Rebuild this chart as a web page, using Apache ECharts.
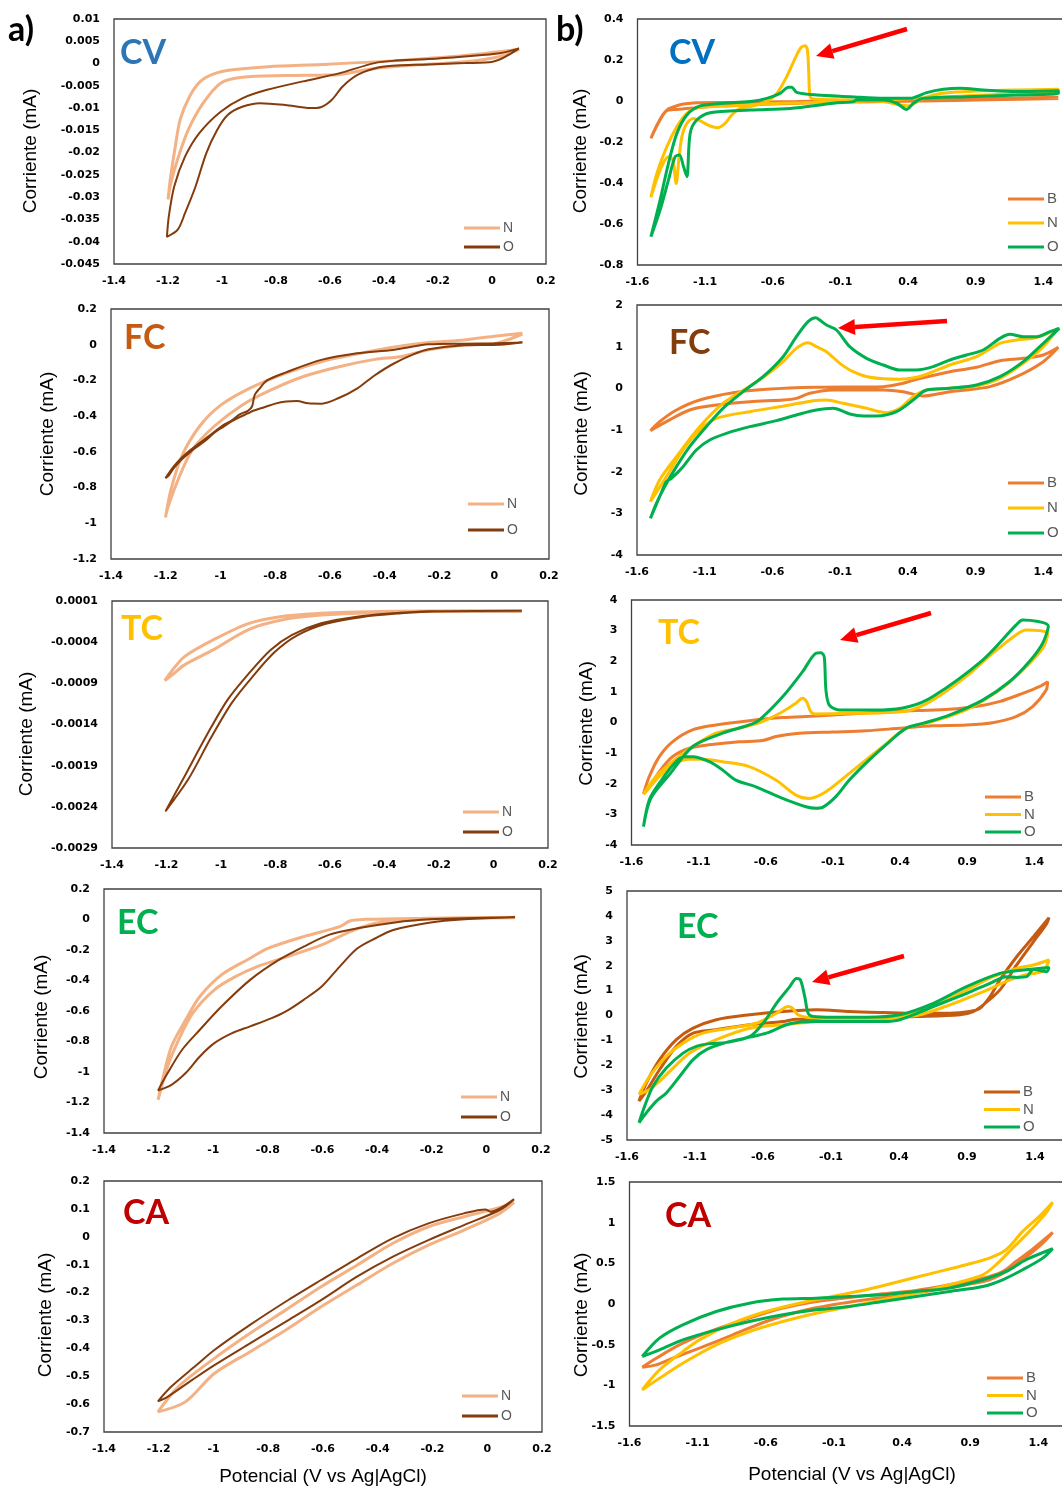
<!DOCTYPE html>
<html><head><meta charset="utf-8">
<script src="https://cdn.jsdelivr.net/npm/echarts@6/dist/echarts.min.js"></script>
<style>
html,body{margin:0;padding:0;background:#fff;width:1062px;height:1488px;overflow:hidden}
#L{position:absolute;left:0;top:0;width:560px;height:1488px}
#R{position:absolute;left:551px;top:0;width:511px;height:1488px}
</style></head><body><div id="L"></div><div id="R"></div>
<script>
// ---------- tick labels ----------
const xTicksA=[-1.4,-1.2,-1,-0.8,-0.6,-0.4,-0.2,0,0.2];
const xTicksB=[-1.6,-1.1,-0.6,-0.1,0.4,0.9,1.4];
const yTicksCVa=[0.01,0.005,0,-0.005,-0.01,-0.015,-0.02,-0.025,-0.03,-0.035,-0.04,-0.045];
const yTicksFCa=[0.2,0,-0.2,-0.4,-0.6,-0.8,-1,-1.2];
const yTicksTCa=[0.0001,-0.0004,-0.0009,-0.0014,-0.0019,-0.0024,-0.0029];
const yTicksECa=[0.2,0,-0.2,-0.4,-0.6,-0.8,-1,-1.2,-1.4];
const yTicksCAa=[0.2,0.1,0,-0.1,-0.2,-0.3,-0.4,-0.5,-0.6,-0.7];
const yTicksCVb=[0.4,0.2,0,-0.2,-0.4,-0.6,-0.8];
const yTicksFCb=[2,1,0,-1,-2,-3,-4];
const yTicksTCb=[4,3,2,1,0,-1,-2,-3,-4];
const yTicksECb=[5,4,3,2,1,0,-1,-2,-3,-4,-5];
const yTicksCAb=[1.5,1,0.5,0,-0.5,-1,-1.5];

// ---------- a) series (Potencial V, Corriente mA) ----------
const cvA_N=[[0.10,0.0032],[-0.10,0.0018],[-0.37,0.0006],[-0.63,-0.0002],[-0.83,-0.0007],[-0.96,-0.0014],[-1.03,-0.0023],[-1.08,-0.0040],[-1.12,-0.0074],[-1.155,-0.0126],[-1.175,-0.0194],[-1.19,-0.0253],[-1.20,-0.0305],[-1.19,-0.0270],[-1.165,-0.0216],[-1.125,-0.0149],[-1.07,-0.0089],[-1.005,-0.0044],[-0.925,-0.0031],[-0.77,-0.0027],[-0.63,-0.0026],[-0.57,-0.0025],[-0.435,-0.0011],[-0.30,-0.0004],[-0.10,0.0004],[0.03,0.0016],[0.10,0.0032]];
const cvA_O=[[0.10,0.0034],[0.003,0.0004],[-0.10,0.0001],[-0.24,-0.0002],[-0.37,-0.0005],[-0.435,-0.0011],[-0.50,-0.0026],[-0.554,-0.0052],[-0.594,-0.0082],[-0.634,-0.0098],[-0.673,-0.0100],[-0.766,-0.0093],[-0.859,-0.0089],[-0.925,-0.0097],[-0.978,-0.0115],[-1.018,-0.0149],[-1.058,-0.0201],[-1.098,-0.0276],[-1.137,-0.0336],[-1.164,-0.0373],[-1.204,-0.0389],[-1.197,-0.0343],[-1.177,-0.0276],[-1.137,-0.0209],[-1.084,-0.0156],[-1.005,-0.0108],[-0.925,-0.0078],[-0.833,-0.0059],[-0.70,-0.0040],[-0.567,-0.0022],[-0.435,0.0001],[-0.369,0.0006],[-0.236,0.0010],[-0.103,0.0016],[0.029,0.0023],[0.10,0.0034]];
const fcA_N=[[0.103,0.064],[0.009,0.049],[-0.109,0.027],[-0.239,0.012],[-0.37,-0.014],[-0.501,-0.052],[-0.632,-0.095],[-0.763,-0.160],[-0.894,-0.244],[-0.998,-0.337],[-1.077,-0.458],[-1.142,-0.626],[-1.181,-0.812],[-1.201,-0.967],[-1.195,-0.924],[-1.155,-0.756],[-1.103,-0.589],[-1.024,-0.458],[-0.92,-0.337],[-0.815,-0.253],[-0.697,-0.178],[-0.567,-0.123],[-0.436,-0.082],[-0.344,-0.067],[-0.239,-0.029],[-0.109,-0.001],[-0.004,0.004],[0.048,0.027],[0.103,0.060]];
const fcA_O=[[0.103,0.012],[0.0,0.008],[-0.109,0.006],[-0.239,0.002],[-0.37,-0.029],[-0.501,-0.048],[-0.632,-0.085],[-0.763,-0.156],[-0.83,-0.20],[-0.86,-0.25],[-0.875,-0.281],[-0.885,-0.346],[-0.90,-0.37],[-0.93,-0.39],[-0.96,-0.425],[-0.99,-0.45],[-1.02,-0.485],[-1.05,-0.52],[-1.08,-0.555],[-1.11,-0.59],[-1.14,-0.63],[-1.17,-0.68],[-1.201,-0.747],[-1.19,-0.735],[-1.17,-0.69],[-1.14,-0.64],[-1.11,-0.60],[-1.08,-0.565],[-1.05,-0.53],[-1.02,-0.49],[-0.99,-0.46],[-0.96,-0.43],[-0.93,-0.405],[-0.90,-0.385],[-0.88,-0.37],[-0.84,-0.35],[-0.80,-0.33],[-0.76,-0.318],[-0.72,-0.315],[-0.68,-0.328],[-0.63,-0.33],[-0.57,-0.30],[-0.50,-0.244],[-0.44,-0.175],[-0.37,-0.108],[-0.30,-0.057],[-0.24,-0.026],[-0.11,-0.003],[0.02,0.0],[0.103,0.012]];
const tcA_N=[[0.104,-0.000017],[-0.238,-0.000021],[-0.502,-0.000033],[-0.633,-0.00005],[-0.765,-0.000082],[-0.897,-0.000171],[-1.029,-0.000373],[-1.134,-0.000575],[-1.187,-0.000777],[-1.206,-0.000866],[-1.18,-0.00080],[-1.134,-0.000676],[-1.029,-0.000494],[-0.897,-0.000244],[-0.765,-0.000122],[-0.633,-0.00007],[-0.436,-0.000042],[-0.17,-0.000025],[0.104,-0.000021]];
const tcA_O=[[0.104,-0.000017],[-0.238,-0.000025],[-0.370,-0.00005],[-0.502,-0.00009],[-0.633,-0.000171],[-0.739,-0.000312],[-0.818,-0.000494],[-0.897,-0.000777],[-0.976,-0.001101],[-1.055,-0.001546],[-1.134,-0.002031],[-1.204,-0.002455],[-1.119,-0.00206],[-1.040,-0.00158],[-0.961,-0.00114],[-0.882,-0.00081],[-0.803,-0.00052],[-0.722,-0.00032],[-0.615,-0.000176],[-0.48,-0.000093],[-0.35,-0.000052],[-0.22,-0.000027],[0.104,-0.000025]];
const ecA_N=[[0.105,0.014],[-0.21,0.008],[-0.446,0.001],[-0.498,-0.008],[-0.537,-0.047],[-0.669,-0.112],[-0.80,-0.189],[-0.865,-0.254],[-0.97,-0.363],[-1.049,-0.505],[-1.101,-0.658],[-1.153,-0.833],[-1.186,-1.051],[-1.202,-1.182],[-1.167,-0.963],[-1.127,-0.789],[-1.075,-0.614],[-0.996,-0.461],[-0.918,-0.374],[-0.839,-0.309],[-0.734,-0.247],[-0.603,-0.167],[-0.498,-0.079],[-0.406,-0.025],[-0.275,-0.003],[-0.079,0.008],[0.105,0.012]];
const ecA_O=[[0.105,0.014],[-0.21,0.001],[-0.341,-0.021],[-0.472,-0.058],[-0.577,-0.101],[-0.669,-0.178],[-0.76,-0.265],[-0.865,-0.396],[-0.97,-0.571],[-1.049,-0.723],[-1.114,-0.854],[-1.167,-1.007],[-1.202,-1.121],[-1.153,-1.084],[-1.101,-1.007],[-1.049,-0.898],[-0.996,-0.811],[-0.931,-0.745],[-0.865,-0.701],[-0.786,-0.647],[-0.734,-0.603],[-0.669,-0.527],[-0.603,-0.440],[-0.537,-0.309],[-0.472,-0.189],[-0.406,-0.123],[-0.341,-0.069],[-0.21,-0.021],[-0.079,0.001],[0.105,0.014]];
const caA_N=[[0.098,0.123],[0.046,0.105],[-0.085,0.072],[-0.215,0.036],[-0.346,-0.024],[-0.476,-0.102],[-0.607,-0.179],[-0.737,-0.263],[-0.868,-0.347],[-0.998,-0.437],[-1.129,-0.538],[-1.203,-0.628],[-1.103,-0.592],[-0.998,-0.491],[-0.868,-0.413],[-0.737,-0.335],[-0.607,-0.251],[-0.476,-0.173],[-0.346,-0.096],[-0.215,-0.030],[-0.085,0.024],[0.046,0.084],[0.098,0.123]];
const caA_O=[[0.098,0.135],[0.013,0.090],[-0.007,0.098],[-0.085,0.084],[-0.215,0.048],[-0.346,-0.006],[-0.476,-0.078],[-0.607,-0.155],[-0.737,-0.233],[-0.868,-0.317],[-0.998,-0.407],[-1.063,-0.461],[-1.155,-0.538],[-1.203,-0.590],[-1.168,-0.574],[-1.076,-0.512],[-0.998,-0.461],[-0.868,-0.383],[-0.737,-0.305],[-0.607,-0.227],[-0.476,-0.143],[-0.346,-0.072],[-0.215,-0.012],[-0.085,0.042],[0.046,0.096],[0.098,0.135]];

// ---------- b) series ----------
const cvB_B=[[1.511,0.018],[1.0,0.012],[0.5,0.008],[0.0,0.003],[-0.42,-0.003],[-0.92,-0.007],[-1.16,-0.008],[-1.26,-0.015],[-1.33,-0.028],[-1.383,-0.044],[-1.44,-0.10],[-1.501,-0.182],[-1.45,-0.11],[-1.39,-0.05],[-1.31,-0.041],[-1.16,-0.033],[-0.92,-0.020],[-0.42,-0.011],[0.0,-0.005],[0.5,0.0],[1.0,0.006],[1.511,0.012]];
const cvB_N=[[-1.501,-0.470],[-1.433,-0.337],[-1.371,-0.272],[-1.339,-0.288],[-1.314,-0.402],[-1.295,-0.288],[-1.272,-0.174],[-1.235,-0.109],[-1.186,-0.085],[-1.125,-0.101],[-1.063,-0.122],[-1.009,-0.130],[-0.952,-0.109],[-0.903,-0.068],[-0.841,-0.036],[-0.743,-0.024],[-0.644,-0.003],[-0.570,0.037],[-0.497,0.119],[-0.435,0.208],[-0.393,0.260],[-0.361,0.270],[-0.344,0.249],[-0.334,0.135],[-0.324,0.021],[-0.275,0.008],[-0.029,0.005],[0.218,-0.003],[0.341,-0.020],[0.402,-0.024],[0.489,0.005],[0.587,0.029],[0.710,0.041],[0.957,0.050],[1.203,0.054],[1.511,0.057],[1.511,0.050],[0.957,0.029],[0.464,0.013],[-0.029,-0.003],[-0.521,-0.011],[-0.915,-0.024],[-1.137,-0.031],[-1.235,-0.060],[-1.309,-0.125],[-1.383,-0.223],[-1.457,-0.353],[-1.501,-0.470]];
const cvB_O=[[-1.501,-0.662],[-1.433,-0.483],[-1.371,-0.304],[-1.309,-0.158],[-1.235,-0.068],[-1.137,-0.024],[-0.965,-0.011],[-0.767,-0.003],[-0.644,0.013],[-0.546,0.037],[-0.484,0.067],[-0.460,0.067],[-0.423,0.042],[-0.275,0.029],[-0.029,0.021],[0.218,0.013],[0.415,0.013],[0.538,0.041],[0.661,0.057],[0.784,0.062],[0.957,0.054],[1.203,0.046],[1.511,0.050],[1.511,0.037],[1.203,0.029],[0.833,0.021],[0.513,0.013],[0.439,-0.011],[0.390,-0.041],[0.316,-0.011],[0.218,0.005],[0.021,0.005],[-0.004,-0.003],[-0.152,-0.011],[-0.472,-0.036],[-0.767,-0.044],[-1.063,-0.057],[-1.162,-0.093],[-1.211,-0.158],[-1.235,-0.369],[-1.260,-0.320],[-1.290,-0.263],[-1.322,-0.272],[-1.371,-0.385],[-1.433,-0.532],[-1.501,-0.662]];
const fcB_B=[[-1.501,-1.016],[-1.433,-0.80],[-1.309,-0.52],[-1.137,-0.28],[-0.891,-0.104],[-0.644,-0.024],[-0.275,0.024],[0.218,0.04],[0.365,0.12],[0.464,0.216],[0.710,0.40],[0.907,0.504],[1.080,0.664],[1.252,0.72],[1.400,0.80],[1.511,0.984],[1.400,0.64],[1.203,0.28],[1.006,0.04],[0.833,-0.04],[0.710,-0.08],[0.513,-0.184],[0.365,-0.08],[0.218,-0.04],[-0.152,-0.04],[-0.324,-0.12],[-0.423,-0.24],[-0.521,-0.28],[-0.767,-0.32],[-1.014,-0.40],[-1.211,-0.52],[-1.383,-0.80],[-1.501,-1.016]];
const fcB_N=[[-1.501,-2.72],[-1.433,-2.2],[-1.309,-1.64],[-1.137,-0.92],[-0.965,-0.36],[-0.792,0.0],[-0.644,0.32],[-0.521,0.64],[-0.423,0.96],[-0.337,1.096],[-0.275,1.0],[-0.201,0.88],[-0.102,0.60],[-0.004,0.40],[0.119,0.264],[0.341,0.216],[0.464,0.264],[0.587,0.40],[0.710,0.56],[0.907,0.76],[1.080,1.08],[1.203,1.16],[1.326,1.2],[1.449,1.336],[1.511,1.44],[1.400,1.0],[1.252,0.6],[1.080,0.24],[0.907,0.056],[0.710,0.0],[0.538,-0.04],[0.439,-0.2],[0.341,-0.48],[0.242,-0.584],[0.095,-0.48],[-0.078,-0.36],[-0.201,-0.28],[-0.300,-0.296],[-0.472,-0.40],[-0.767,-0.56],[-1.014,-0.72],[-1.137,-1.0],[-1.260,-1.48],[-1.383,-2.12],[-1.501,-2.72]];
const fcB_O=[[-1.501,-3.12],[-1.457,-2.76],[-1.396,-2.36],[-1.309,-1.88],[-1.211,-1.40],[-1.088,-0.92],[-0.965,-0.48],[-0.817,-0.08],[-0.669,0.28],[-0.521,0.76],[-0.423,1.24],[-0.337,1.6],[-0.280,1.696],[-0.251,1.64],[-0.201,1.52],[-0.127,1.4],[-0.029,1.0],[0.095,0.72],[0.218,0.56],[0.341,0.44],[0.464,0.44],[0.587,0.52],[0.710,0.68],[0.833,0.80],[0.956,0.92],[1.080,1.2],[1.154,1.296],[1.252,1.24],[1.351,1.24],[1.449,1.36],[1.518,1.44],[1.400,1.08],[1.252,0.64],[1.080,0.28],[0.907,0.08],[0.710,0.0],[0.538,-0.04],[0.439,-0.28],[0.316,-0.56],[0.168,-0.664],[0.070,-0.664],[-0.029,-0.616],[-0.152,-0.48],[-0.275,-0.52],[-0.398,-0.616],[-0.570,-0.776],[-0.767,-0.92],[-0.940,-1.08],[-1.063,-1.24],[-1.162,-1.48],[-1.260,-1.88],[-1.346,-2.16],[-1.383,-2.24],[-1.433,-2.6],[-1.501,-3.12]];
const tcB_B=[[-1.511,-2.335],[-1.468,-1.77],[-1.394,-1.12],[-1.295,-0.63],[-1.146,-0.24],[-0.972,-0.08],[-0.723,0.06],[-0.475,0.16],[-0.227,0.21],[0.022,0.28],[0.270,0.34],[0.518,0.39],[0.767,0.43],[0.965,0.52],[1.139,0.68],[1.313,0.95],[1.437,1.17],[1.499,1.333],[1.487,1.05],[1.387,0.52],[1.263,0.19],[1.089,-0.005],[0.891,-0.08],[0.642,-0.11],[0.394,-0.19],[0.146,-0.27],[-0.103,-0.31],[-0.351,-0.35],[-0.525,-0.46],[-0.624,-0.59],[-0.798,-0.63],[-1.021,-0.73],[-1.170,-0.84],[-1.295,-1.12],[-1.394,-1.61],[-1.468,-2.10],[-1.511,-2.335]];
const tcB_N=[[-1.511,-2.335],[-1.419,-1.77],[-1.295,-1.28],[-1.146,-0.79],[-0.972,-0.35],[-0.798,-0.19],[-0.624,0.03],[-0.475,0.35],[-0.376,0.63],[-0.326,0.79],[-0.296,0.68],[-0.264,0.35],[-0.227,0.28],[0.022,0.30],[0.270,0.32],[0.469,0.39],[0.642,0.73],[0.891,1.50],[1.089,2.26],[1.263,2.86],[1.338,3.02],[1.437,3.0],[1.499,2.91],[1.462,2.42],[1.313,1.71],[1.139,1.06],[0.891,0.41],[0.642,0.03],[0.444,-0.19],[0.270,-0.79],[0.022,-1.66],[-0.152,-2.26],[-0.276,-2.48],[-0.376,-2.37],[-0.525,-1.88],[-0.723,-1.44],[-0.922,-1.28],[-1.071,-1.20],[-1.170,-1.20],[-1.270,-1.33],[-1.394,-1.77],[-1.493,-2.26],[-1.511,-2.335]];
const tcB_O=[[-1.511,-3.40],[-1.456,-2.48],[-1.319,-1.71],[-1.146,-0.79],[-0.922,-0.35],[-0.723,-0.08],[-0.649,0.08],[-0.475,0.84],[-0.326,1.66],[-0.227,2.26],[-0.189,2.28],[-0.165,2.15],[-0.152,1.06],[-0.127,0.57],[-0.053,0.41],[0.270,0.41],[0.469,0.52],[0.642,0.84],[1.015,2.04],[1.263,3.18],[1.313,3.35],[1.504,3.15],[1.462,2.59],[1.363,1.99],[1.214,1.33],[1.015,0.73],[0.767,0.24],[0.568,-0.03],[0.444,-0.19],[0.320,-0.63],[0.171,-1.22],[0.022,-1.88],[-0.078,-2.42],[-0.177,-2.77],[-0.227,-2.80],[-0.301,-2.75],[-0.475,-2.48],[-0.674,-2.10],[-0.823,-1.88],[-0.922,-1.55],[-1.021,-1.28],[-1.146,-1.12],[-1.195,-1.12],[-1.270,-1.28],[-1.394,-1.99],[-1.468,-2.53],[-1.511,-3.40]];
const ecB_B=[[-1.512,-3.44],[-1.458,-2.71],[-1.360,-1.77],[-1.237,-0.97],[-1.114,-0.51],[-0.943,-0.17],[-0.697,0.03],[-0.452,0.16],[-0.207,0.23],[0.038,0.16],[0.284,0.12],[0.529,0.09],[0.774,0.09],[0.921,0.16],[0.995,0.29],[1.069,0.76],[1.142,1.43],[1.265,2.36],[1.388,3.16],[1.503,3.93],[1.486,3.69],[1.388,2.96],[1.265,2.03],[1.142,1.03],[1.020,0.43],[0.946,0.16],[0.848,0.03],[0.529,-0.04],[0.284,-0.07],[0.038,-0.15],[-0.207,-0.17],[-0.354,-0.15],[-0.452,-0.24],[-0.697,-0.37],[-0.943,-0.57],[-1.114,-0.71],[-1.237,-1.24],[-1.360,-2.17],[-1.458,-3.04],[-1.512,-3.44]];
const ecB_N=[[-1.512,-3.17],[-1.433,-2.44],[-1.311,-1.64],[-1.188,-1.11],[-1.041,-0.71],[-0.845,-0.51],[-0.648,-0.31],[-0.501,0.09],[-0.415,0.36],[-0.383,0.29],[-0.342,0.03],[-0.280,-0.07],[-0.084,-0.11],[0.161,-0.15],[0.406,-0.04],[0.652,0.36],[0.897,1.03],[1.093,1.56],[1.265,1.89],[1.388,2.03],[1.503,2.23],[1.461,1.79],[1.339,1.65],[1.216,1.43],[1.020,0.96],[0.774,0.43],[0.529,0.0],[0.284,-0.07],[0.038,-0.17],[-0.207,-0.24],[-0.452,-0.37],[-0.697,-0.51],[-0.943,-0.97],[-1.139,-1.51],[-1.261,-2.11],[-1.360,-2.64],[-1.433,-2.97],[-1.512,-3.17]];
const ecB_O=[[-1.512,-4.31],[-1.470,-3.64],[-1.409,-2.84],[-1.311,-2.11],[-1.188,-1.51],[-1.090,-1.24],[-0.992,-1.13],[-0.869,-1.08],[-0.697,-0.84],[-0.599,-0.31],[-0.501,0.49],[-0.403,1.16],[-0.354,1.49],[-0.325,1.43],[-0.293,0.76],[-0.268,0.09],[-0.231,-0.04],[-0.084,-0.07],[0.161,-0.07],[0.406,0.03],[0.652,0.49],[0.897,1.16],[1.142,1.69],[1.315,1.83],[1.503,1.93],[1.486,1.76],[1.388,1.85],[1.339,1.56],[1.265,1.53],[1.191,1.56],[1.069,1.29],[0.897,0.89],[0.652,0.36],[0.406,-0.17],[0.284,-0.24],[0.038,-0.24],[-0.207,-0.24],[-0.403,-0.33],[-0.575,-0.71],[-0.697,-0.87],[-0.869,-1.08],[-1.016,-1.37],[-1.114,-1.77],[-1.212,-2.44],[-1.311,-3.11],[-1.384,-3.44],[-1.458,-3.91],[-1.512,-4.31]];
const caB_B=[[-1.507,-0.777],[-1.404,-0.667],[-1.209,-0.482],[-0.964,-0.310],[-0.720,-0.174],[-0.475,-0.051],[-0.231,0.031],[0.014,0.080],[0.258,0.125],[0.503,0.166],[0.747,0.236],[0.992,0.318],[1.138,0.400],[1.236,0.523],[1.358,0.675],[1.505,0.880],[1.432,0.749],[1.310,0.577],[1.187,0.421],[1.041,0.298],[0.869,0.236],[0.625,0.166],[0.380,0.101],[0.136,0.052],[-0.109,-0.010],[-0.353,-0.092],[-0.598,-0.215],[-0.842,-0.379],[-1.087,-0.543],[-1.282,-0.667],[-1.404,-0.749],[-1.507,-0.777]];
const caB_N=[[-1.507,-1.056],[-1.380,-0.810],[-1.209,-0.585],[-1.087,-0.441],[-0.842,-0.236],[-0.598,-0.092],[-0.353,0.010],[-0.109,0.093],[0.136,0.175],[0.380,0.277],[0.625,0.380],[0.869,0.483],[1.041,0.565],[1.163,0.667],[1.285,0.893],[1.407,1.077],[1.505,1.250],[1.456,1.118],[1.334,0.893],[1.212,0.688],[1.090,0.483],[0.992,0.359],[0.747,0.236],[0.503,0.134],[0.258,0.052],[0.014,-0.031],[-0.231,-0.113],[-0.475,-0.215],[-0.720,-0.338],[-0.964,-0.502],[-1.209,-0.728],[-1.380,-0.913],[-1.507,-1.056]];
const caB_O=[[-1.507,-0.646],[-1.380,-0.420],[-1.209,-0.256],[-0.964,-0.092],[-0.720,0.010],[-0.475,0.060],[-0.231,0.072],[0.014,0.093],[0.258,0.113],[0.503,0.154],[0.747,0.195],[0.992,0.298],[1.163,0.400],[1.310,0.544],[1.505,0.679],[1.432,0.564],[1.285,0.421],[1.138,0.298],[0.992,0.216],[0.747,0.154],[0.503,0.093],[0.258,0.031],[0.014,-0.031],[-0.231,-0.072],[-0.475,-0.133],[-0.720,-0.215],[-0.964,-0.318],[-1.209,-0.441],[-1.380,-0.564],[-1.507,-0.646]];

// ---------- styling / layout ----------
const cN='#F4B183', cO='#843C0C';
const cB2='#ED7D31', cN2='#FFC000', cO2='#00B050', cBec='#C55A11';
const axisFont={fontFamily:'DejaVu Sans',fontWeight:'bold',fontSize:11,color:'#000'};
function fmt(v){return String(parseFloat((+v).toPrecision(6)));}

const panelsA=[
 {left:114,top:19,width:432,height:245,ymin:-0.045,ymax:0.01,yt:yTicksCVa,yGap:74,yShift:9.5,leg:[464,228,19],
  s:[['N',cvA_N,cN,3],['O',cvA_O,cO,2]]},
 {left:111,top:309,width:438,height:250,ymin:-1.2,ymax:0.2,yt:yTicksFCa,yGap:54,yShift:0,leg:[468,504,26],
  s:[['N',fcA_N,cN,3],['O',fcA_O,cO,2]]},
 {left:112,top:601,width:436,height:247,ymin:-0.0029,ymax:0.0001,yt:yTicksTCa,yGap:76,yShift:9.5,leg:[463,812,20],
  s:[['N',tcA_N,cN,3],['O',tcA_O,cO,2]]},
 {left:104,top:889,width:437,height:244,ymin:-1.4,ymax:0.2,yt:yTicksECa,yGap:53,yShift:6,leg:[461,1097,20],
  s:[['N',ecA_N,cN,3],['O',ecA_O,cO,2]]},
 {left:104,top:1181,width:438,height:251,ymin:-0.7,ymax:0.2,yt:yTicksCAa,yGap:49,yShift:8.5,leg:[462,1396,20],xName:35,xShift:0,
  s:[['N',caA_N,cN,3],['O',caA_O,cO,2]]}
];
const panelsB=[
 {left:637.5,top:19,width:473.5,height:246,ymin:-0.8,ymax:0.4,yt:yTicksCVb,yGap:47,yShift:9,leg:[1008,199,24],
  s:[['B',cvB_B,cB2,3],['N',cvB_N,cN2,3],['O',cvB_O,cO2,3]]},
 {left:637,top:305,width:474,height:250,ymin:-4,ymax:2,yt:yTicksFCb,yGap:46,yShift:3.5,leg:[1008,483,25],
  s:[['B',fcB_B,cB2,3],['N',fcB_N,cN2,3],['O',fcB_O,cO2,3]]},
 {left:631.5,top:600,width:470,height:245,ymin:-4,ymax:4,yt:yTicksTCb,yGap:35,yShift:1,leg:[985,797,17.5],
  s:[['B',tcB_B,cB2,3],['N',tcB_N,cN2,3],['O',tcB_O,cO2,3]]},
 {left:627,top:891,width:476,height:249,ymin:-5,ymax:5,yt:yTicksECb,yGap:36,yShift:1,leg:[984,1092,17.5],
  s:[['B',ecB_B,cBec,3],['N',ecB_N,cN2,3],['O',ecB_O,cO2,3]]},
 {left:629.5,top:1182,width:477,height:244,ymin:-1.5,ymax:1.5,yt:yTicksCAb,yGap:38,yShift:11,leg:[987,1378,17.5],xName:39,xShift:16,
  s:[['B',caB_B,cB2,3],['N',caB_N,cN2,3],['O',caB_O,cO2,3]]}
];

function build(panels, ox, xmin, xmax, xt, legFs, graphic){
  const grid=[],xAxis=[],yAxis=[],series=[],legend=[];
  panels.forEach((p,i)=>{
    grid.push({left:p.left-ox,top:p.top,width:p.width,height:p.height,show:true,borderColor:'#404040',borderWidth:1.3,
      backgroundColor:'transparent',containLabel:false,outerBoundsMode:'none'});
    const xa={type:'value',gridIndex:i,min:xmin,max:xmax,axisLine:{show:false},axisTick:{show:false},splitLine:{show:false},
      axisLabel:Object.assign({customValues:xt,formatter:fmt,margin:12,showMinLabel:true,showMaxLabel:true},axisFont)};
    if(p.xName){
      Object.assign(xa,{name:'Potencial (V vs Ag|AgCl)',nameLocation:'middle',nameGap:p.xName,nameMoveOverlap:false,
        nameTextStyle:{fontFamily:'Liberation Sans',fontSize:19,color:'#000',padding:[0,2*p.xShift,0,0]}});
    }
    xAxis.push(xa);
    yAxis.push({type:'value',gridIndex:i,min:p.ymin,max:p.ymax,axisLine:{show:false},axisTick:{show:false},splitLine:{show:false},
      axisLabel:Object.assign({customValues:p.yt,formatter:fmt,margin:14,showMinLabel:true,showMaxLabel:true},axisFont),
      name:'Corriente (mA)',nameLocation:'middle',nameGap:p.yGap,nameMoveOverlap:false,
      nameTextStyle:{fontFamily:'Liberation Sans',fontSize:19,color:'#000',padding:[0,2*p.yShift,0,0]}});
    const names=[];
    p.s.forEach(s=>{
      const nm=s[0]+'#'+i; names.push(nm);
      series.push({type:'line',name:nm,xAxisIndex:i,yAxisIndex:i,data:s[1],symbol:'none',showSymbol:false,smooth:0.3,
        color:s[2],lineStyle:{color:s[2],width:s[3]},itemStyle:{color:s[2]},silent:true,emphasis:{disabled:true},z:3});
    });
    legend.push({data:names,orient:'vertical',left:p.leg[0]-ox,top:p.leg[1]-legFs/2,itemWidth:36,itemHeight:3,
      itemGap:p.leg[2]-legFs,icon:'rect',selectedMode:false,padding:0,
      textStyle:{fontFamily:'Liberation Sans',fontSize:legFs,lineHeight:legFs,color:'#595959',padding:[0,0,0,-2]},
      formatter:n=>n.split('#')[0]});
  });
  return {animation:false,backgroundColor:'transparent',grid,xAxis,yAxis,series,legend,graphic};
}

function title(txt,color,x,yc,ox){
  return {type:'text',z:50,style:{text:txt,x:x-ox,y:yc,fill:color,font:'bold 34px Lato',verticalAlign:'middle',align:'left'}};
}
function arrow(tx,ty,px,py,ox){
  const dx=px-tx,dy=py-ty,L=Math.hypot(dx,dy),ux=dx/L,uy=dy/L,nx=-uy,ny=ux,h=17,w=8;
  const bx=px-ux*h,by=py-uy*h;
  return [
    {type:'line',z:50,shape:{x1:tx-ox,y1:ty,x2:bx-ox,y2:by},style:{stroke:'#FF0000',lineWidth:4.5}},
    {type:'polygon',z:50,shape:{points:[[px-ox,py],[bx+nx*w-ox,by+ny*w],[bx-nx*w-ox,by-ny*w]]},style:{fill:'#FF0000'}}
  ];
}

const gA=[
 {type:'text',z:50,style:{text:'a)',x:8,y:30,fill:'#000',font:'bold 34px Lato',verticalAlign:'middle'}},
 title('CV','#2E75B6',120,53,0), title('FC','#C55A11',124,338,0), title('TC','#FFC000',121,629,0),
 title('EC','#00B050',117,923,0), title('CA','#C00000',123,1213,0)
];
const oxR=551;
const gB=[
 {type:'text',z:50,style:{text:'b)',x:556-oxR,y:30,fill:'#000',font:'bold 34px Lato',verticalAlign:'middle'}},
 title('CV','#0070C0',669,53,oxR), title('FC','#843C0C',669,343,oxR), title('TC','#FFC000',658,633,oxR),
 title('EC','#00B050',677,927,oxR), title('CA','#C00000',665,1216,oxR),
 ...arrow(907,29,816,56,oxR), ...arrow(947,321,838,328,oxR), ...arrow(931,613,840,640,oxR), ...arrow(904,956,812,982,oxR)
];

const chL=echarts.init(document.getElementById('L'),null,{renderer:'canvas'});
chL.setOption(build(panelsA,0,-1.4,0.2,xTicksA,14,gA));
const chR=echarts.init(document.getElementById('R'),null,{renderer:'canvas'});
chR.setOption(build(panelsB,oxR,-1.6,1.9,xTicksB,15,gB));
</script></body></html>
